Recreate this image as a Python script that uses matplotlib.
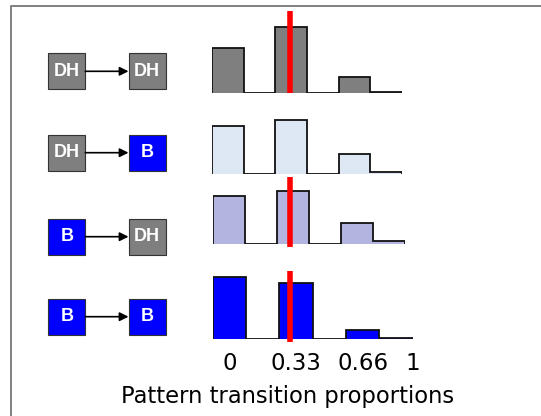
import matplotlib
matplotlib.use("Agg")
import matplotlib.pyplot as plt
from matplotlib.patches import Rectangle
import numpy as np

# 6 equal bins on [0, 1]; proportions 0, 1/3, 2/3, 1 fall into bins 0, 2, 4, 5
bin_edges = np.linspace(0, 1, 7)

transitions = [("DH", "DH"), ("DH", "B"), ("B", "DH"), ("B", "B")]
counts_dh_dh = [45, 0, 66, 0, 16, 1]
counts_dh_b = [48, 0, 54, 0, 20, 2.5]
counts_b_dh = [48, 0, 53, 0, 21, 3]
counts_b_b = [62, 0, 56, 0, 9, 0.8]
all_counts = [counts_dh_dh, counts_dh_b, counts_b_dh, counts_b_b]

# red reference line (None = not shown)
ref_values = [0.41, None, 0.40, 0.386]

tick_values = [1 / 12, 5 / 12, 9 / 12, 1.0]
tick_labels = ["0", "0.33", "0.66", "1"]
xlabel = "Pattern transition proportions"

fill_colors = ["#7f7f7f", "#dde8f4", "#b4b4e1", "#0000ff"]
state_colors = {"DH": "#7f7f7f", "B": "#0000ff"}

W, H = 541, 416
fig = plt.figure(figsize=(W / 100, H / 100), dpi=100)

# panel layout in pixels: left, width, baseline y, top y
panels = [
    (212.0, 190.0, 92.7, 10.7),
    (212.0, 190.0, 174.3, 110.0),
    (212.7, 192.6, 244.3, 177.0),
    (212.7, 200.0, 339.0, 271.0),
]


def px_axes(left, width, base, top):
    return fig.add_axes([left / W, 1 - base / H, width / W, (base - top) / H])


for i, (left, width, base, top) in enumerate(panels):
    ax = px_axes(left, width, base, top)
    counts = all_counts[i]
    ax.stairs(counts, bin_edges, fill=True, color=fill_colors[i], baseline=0)
    ax.stairs(counts, bin_edges, fill=False, color="#111111", lw=1.3, baseline=0)
    ax.set_xlim(0, 1)
    ax.set_ylim(0, base - top)
    for s in ax.spines.values():
        s.set_visible(False)
    ax.set_yticks([])
    if ref_values[i] is not None:
        ax.plot([ref_values[i]] * 2, [-3 if i > 1 else 0, base - top],
                color="#ff0000", lw=4, solid_capstyle="butt", clip_on=False)
    if i == 3:
        ax.set_xticks(tick_values, tick_labels)
        ax.tick_params(axis="x", length=0, pad=9, labelsize=16.5)
    else:
        ax.set_xticks([])

fig.text(287.5 / W, 1 - 403 / H, xlabel, ha="center", va="baseline", fontsize=16.3)

# left-hand diagram of the transitions
diag = fig.add_axes([0, 0, 1, 1])
diag.set_xlim(0, W)
diag.set_ylim(H, 0)
diag.axis("off")

row_centers = [71.3, 152.7, 236.7, 316.7]
box_w, box_h = 37, 36
for (src, dst), cy in zip(transitions, row_centers):
    for x0, state in [(48.3, src), (128.5, dst)]:
        diag.add_patch(Rectangle((x0, cy - box_h / 2), box_w, box_h,
                                 facecolor=state_colors[state], edgecolor="#333333", lw=0.8))
        diag.text(x0 + box_w / 2, cy, state, color="white", ha="center", va="center",
                  fontsize=13, fontweight="bold", family="Liberation Sans")
    diag.annotate("", xy=(128.5, cy), xytext=(85.3, cy),
                  arrowprops=dict(arrowstyle="-|>", color="black", lw=1.2,
                                  mutation_scale=13, shrinkA=0, shrinkB=0))

# panel frame
diag.plot([10.8, 10.8, W + 5], [H + 5, 6, 6], color="#808080", lw=1.4, clip_on=False)

fig.savefig("out.png", dpi=100)
